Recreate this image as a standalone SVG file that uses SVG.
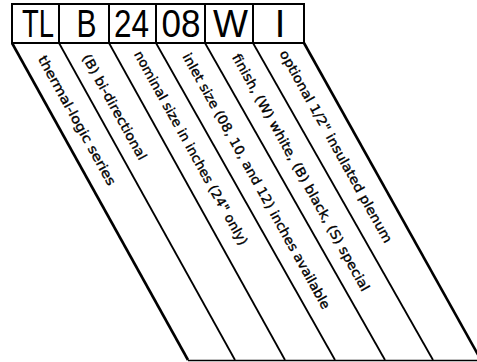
<svg xmlns="http://www.w3.org/2000/svg" width="477" height="362" viewBox="0 0 477 362">
<style>
.box{fill:#fff;stroke:#000;stroke-width:2}
.code{font-family:"Liberation Sans",Arial,sans-serif;font-size:38px;fill:#000;text-anchor:middle}
.lbl{font-family:"DejaVu Sans","Liberation Sans",sans-serif;font-size:13px;fill:#000;stroke:#000;stroke-width:0.35;text-anchor:middle;dominant-baseline:central}
.ln{stroke:#000;stroke-width:1.8;fill:none}
.thick{stroke:#000;stroke-width:2.6;fill:none}
</style>
<rect width="477" height="362" fill="#fff"/>
<g id="code-box">
<g id="cell-TL"><rect class="box" x="12" y="4" width="47" height="39"/><text class="code" x="38" y="37" textLength="32" lengthAdjust="spacingAndGlyphs">TL</text></g>
<g id="cell-B"><rect class="box" x="59" y="4" width="50" height="39"/><text class="code" x="86.5" y="37" textLength="20" lengthAdjust="spacingAndGlyphs">B</text></g>
<g id="cell-24"><rect class="box" x="109" y="4" width="47" height="39"/><text class="code" x="131.5" y="37" textLength="35" lengthAdjust="spacingAndGlyphs">24</text></g>
<g id="cell-08"><rect class="box" x="156" y="4" width="49" height="39"/><text class="code" x="181" y="37" textLength="39" lengthAdjust="spacingAndGlyphs">08</text></g>
<g id="cell-W"><rect class="box" x="205" y="4" width="48" height="39"/><text class="code" x="230.5" y="37" textLength="35" lengthAdjust="spacingAndGlyphs">W</text></g>
<g id="cell-I"><rect class="box" x="253" y="4" width="51" height="39"/><text class="code" x="280" y="37">I</text></g>
</g>
<g id="connectors">
<line class="thick" x1="12" y1="43" x2="188" y2="360"/>
<line class="ln" x1="59" y1="43" x2="235" y2="360"/>
<line class="ln" x1="109" y1="43" x2="285" y2="360"/>
<line class="ln" x1="156" y1="43" x2="335" y2="360"/>
<line class="ln" x1="205" y1="43" x2="385" y2="360"/>
<line class="ln" x1="253" y1="43" x2="433" y2="360"/>
<line class="thick" x1="304" y1="43" x2="481" y2="360"/>
<line class="ln" x1="188" y1="360.5" x2="477" y2="360.5" style="stroke-width:1.5"/>
</g>
<g id="label-series"><text class="lbl" transform="translate(77,120.5) rotate(61)" textLength="146" lengthAdjust="spacingAndGlyphs">thermal-logic series</text></g>
<g id="label-direction"><text class="lbl" transform="translate(114.5,107) rotate(61)" textLength="119" lengthAdjust="spacingAndGlyphs">(B) bi-directional</text></g>
<g id="label-size"><text class="lbl" transform="translate(191,148) rotate(61)" textLength="220" lengthAdjust="spacingAndGlyphs">nominal size in inches (24" only)</text></g>
<g id="label-inlet"><text class="lbl" transform="translate(256.5,181) rotate(61)" textLength="290" lengthAdjust="spacingAndGlyphs">inlet size (08, 10, and 12) inches available</text></g>
<g id="label-finish"><text class="lbl" transform="translate(301,172.5) rotate(61)" textLength="269" lengthAdjust="spacingAndGlyphs">finish, (W) white, (B) black, (S) special</text></g>
<g id="label-plenum"><text class="lbl" transform="translate(336,146.5) rotate(61)" textLength="218" lengthAdjust="spacingAndGlyphs">optional 1/2" insulated plenum</text></g>
</svg>
